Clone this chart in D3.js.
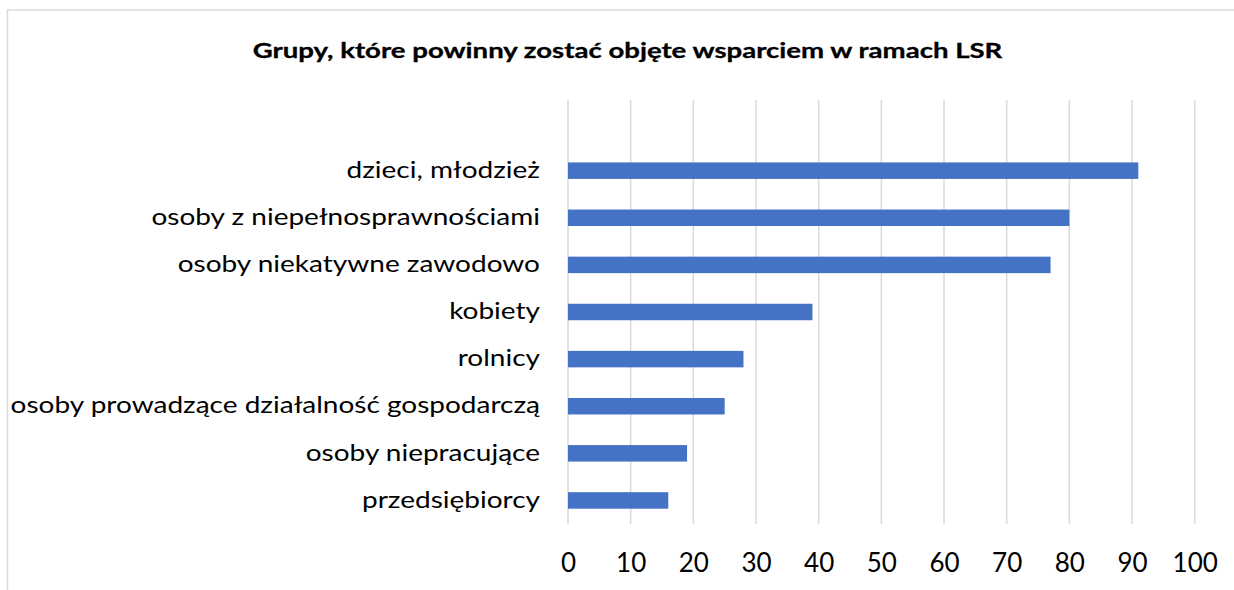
<!DOCTYPE html>
<html>
<head>
<meta charset="utf-8">
<script src="https://cdn.jsdelivr.net/npm/d3@7"></script>
<style>
  body { margin: 0; background: #fff; }
  svg { display: block; }
</style>
</head>
<body>
<div id="chart"></div>
<script>
// chart data
const title = "Grupy, które powinny zostać objęte wsparciem w ramach LSR";
const categories = [
    "dzieci, młodzież",
    "osoby z niepełnosprawnościami",
    "osoby niekatywne zawodowo",
    "kobiety",
    "rolnicy",
    "osoby prowadzące działalność gospodarczą",
    "osoby niepracujące",
    "przedsiębiorcy"
];
const values = [91, 80, 77, 39, 28, 25, 19, 16];
const xTicks = [0, 10, 20, 30, 40, 50, 60, 70, 80, 90, 100];

const W = 1234, H = 590;
const font = "Lato, 'Open Sans', sans-serif";
// the source picture is a little wide, so text gets stretched horizontally
const labelStretch = 1.245;
const titleStretch = 1.345;

const svg = d3.select("#chart").append("svg")
    .attr("width", W)
    .attr("height", H);

// chart frame (runs off the right and bottom edges)
svg.append("rect")
    .attr("x", 7.5)
    .attr("y", 10)
    .attr("width", W + 20)
    .attr("height", H + 20)
    .attr("fill", "none")
    .attr("stroke", "#d9d9d9")
    .attr("stroke-width", 1.5);

svg.append("text")
    .attr("transform", `translate(627.5,57.5) scale(${titleStretch},1)`)
    .attr("text-anchor", "middle")
    .attr("font-family", font)
    .attr("font-weight", "bold")
    .attr("font-size", 20.5)
    .attr("fill", "#000")
    .attr("stroke", "#000")
    .attr("stroke-width", 0.3)
    .text(title);

// plot area: one empty slot above the first category
const plot = { left: 568, right: 1194.7, top: 100, bottom: 524 };
const slot = (plot.bottom - plot.top) / (categories.length + 1);

const x = d3.scaleLinear()
    .domain([0, 100])
    .range([plot.left, plot.right]);

const y = d3.scaleBand()
    .domain(categories)
    .range([plot.top + slot, plot.bottom])
    .paddingInner(0.65)
    .paddingOuter(0.325);

// vertical gridlines
svg.append("g")
    .selectAll("line")
    .data(xTicks)
    .join("line")
    .attr("x1", d => x(d))
    .attr("x2", d => x(d))
    .attr("y1", plot.top)
    .attr("y2", plot.bottom)
    .attr("stroke", "#d9d9d9")
    .attr("stroke-width", 1.5);

// bars
svg.append("g")
    .selectAll("rect")
    .data(values)
    .join("rect")
    .attr("x", x(0))
    .attr("y", (d, i) => y(categories[i]))
    .attr("width", d => x(d) - x(0))
    .attr("height", y.bandwidth())
    .attr("fill", "#4472c4");

// category labels
const labelPad = 28;
svg.append("g")
    .attr("transform", `translate(${plot.left},0)`)
    .call(d3.axisLeft(y).tickSize(0).tickPadding(labelPad))
    .call(g => g.select(".domain").remove())
    .selectAll("text")
    .attr("x", -labelPad / labelStretch)
    .attr("transform", `scale(${labelStretch},1)`)
    .attr("font-family", font)
    .attr("font-size", 22.5)
    .attr("fill", "#000");

// value axis labels
svg.append("g")
    .attr("transform", `translate(0,${plot.bottom})`)
    .call(d3.axisBottom(x).tickValues(xTicks).tickSize(0).tickPadding(30))
    .call(g => g.select(".domain").remove())
    .selectAll("text")
    .attr("font-family", font)
    .attr("font-size", 26)
    .attr("fill", "#000");
</script>
</body>
</html>
